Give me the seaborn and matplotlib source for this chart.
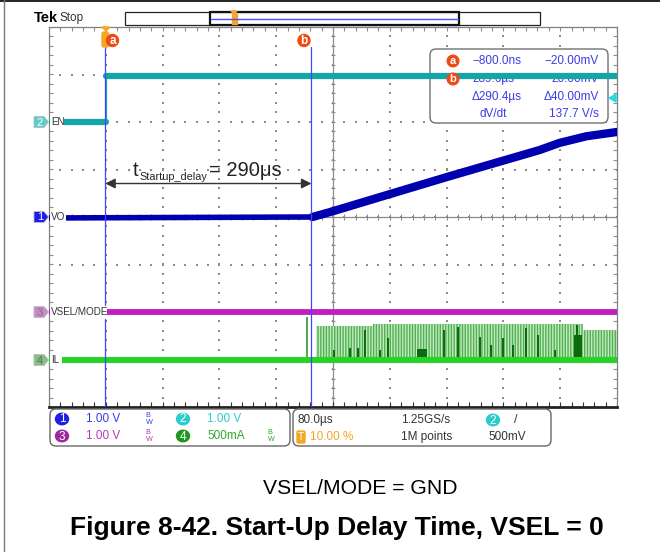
import numpy as np
import pandas as pd
import seaborn as sns
import matplotlib.pyplot as plt
from matplotlib.transforms import Affine2D
from matplotlib.patches import FancyBboxPatch, Polygon, Rectangle, Circle, Ellipse
from matplotlib.lines import Line2D

# scope screen: 80 us/div, trigger at 10 %, vertical axis in divisions (0 = centre)
en_t = [-80, 0, 0, 720]
en_v = [2.0, 2.0, 2.97, 2.97]
en_seg = [0, 0, 1, 1]

vo_t = [-80, 291, 315, 480, 611, 639, 677, 720]
vo_v = [-0.02, 0.0, 0.1, 0.84, 1.41, 1.56, 1.7, 1.79]

vsel_t = [-80, 720]
vsel_v = [-2.0, -2.0]

il_t = [-80, 720]
il_v = [-3.0, -3.0]

# IL switching after start-up: light envelope, one early pulse, darker bursts
il_env_t = [296, 376, 672, 720]
il_env_top = [-2.29, -2.25, -2.38, -2.38]
il_first_t = 283
il_first_top = -2.1
il_dark_t = [322, 344, 355, 365, 386, 398, 477, 496, 527, 543, 559, 574, 592, 609, 632, 663]
il_dark_top = [-2.8, -2.76, -2.76, -2.38, -2.8, -2.55, -2.38, -2.32, -2.53, -2.7, -2.55, -2.7,
               -2.34, -2.48, -2.8, -2.27]
il_blob_t0 = [439, 660]
il_blob_t1 = [452, 670]
il_blob_top = [-2.78, -2.48]

cursor_a = -0.8
cursor_b = 289.6

readout_left = ['\u2212800.0ns', '289.6\u00b5s', '\u0394290.4\u00b5s', 'dV/dt']
readout_right = ['\u221220.00mV', '20.00mV', '\u039440.00mV', '137.7 V/s']

sns.set_theme(style='white')
plt.rcParams['font.family'] = ['Liberation Sans', 'DejaVu Sans']
SCOPE = ['Liberation Sans', 'DejaVu Sans']

fig = plt.figure(figsize=(6.6, 5.52), dpi=100)
fig.patch.set_facecolor('white')
# reference pixel coordinates (origin top-left)
px = Affine2D().scale(1 / 660, -1 / 552).translate(0, 1) + fig.transFigure

ax = fig.add_axes([49 / 660, (552 - 407) / 552, 568 / 660, 380 / 552])
ax.set_xlim(-80, 720)
ax.set_ylim(-4, 4)
ax.set_xticks([])
ax.set_yticks([])
for s in ['left', 'right', 'top']:
    ax.spines[s].set_color('#808080')
    ax.spines[s].set_linewidth(0.9)
ax.spines['bottom'].set_color('#222222')
ax.spines['bottom'].set_linewidth(2)

# ---------------- graticule ----------------
gcol = '#8c8c8c'
gx = np.arange(-80, 721, 80)
gy = np.arange(-4, 4.01, 1)
mx = np.arange(-80, 721, 16)
my = np.arange(-4, 4.01, 0.2)
X1, Y1 = np.meshgrid(gx[1:-1], my)
X2, Y2 = np.meshgrid(mx, gy[1:-1])
ax.scatter(X1.ravel(), Y1.ravel(), s=1.3, marker='s', color=gcol, linewidths=0, zorder=1)
ax.scatter(X2.ravel(), Y2.ravel(), s=1.3, marker='s', color=gcol, linewidths=0, zorder=1)
ax.axhline(0, color=gcol, lw=0.9, zorder=1)
ax.axvline(320, color=gcol, lw=0.9, zorder=1)
ax.vlines(mx, -0.07, 0.07, color=gcol, lw=0.8, zorder=1)
ax.hlines(my, 316.5, 323.5, color=gcol, lw=0.8, zorder=1)
ax.vlines(mx, 3.92, 4, color=gcol, lw=0.8, zorder=1)
ax.vlines(mx, -4, -3.9, color='#333333', lw=0.8, zorder=1)
ax.hlines(my, -80, -75, color=gcol, lw=0.8, zorder=1)
ax.hlines(my, 715, 720, color=gcol, lw=0.8, zorder=1)

# ---------------- cursor readout box (under traces) ----------------
ax.add_patch(FancyBboxPatch((430, 49), 178, 74, boxstyle='round,pad=0,rounding_size=6',
                            transform=px, facecolor='white', edgecolor='#707070', lw=1,
                            zorder=1.5, clip_on=False))
rc = '#3b3bea'
rows_y = [61, 79, 97, 114]
for i, (l, r) in enumerate(zip(readout_left, readout_right)):
    xl = 479 if i == 3 else 472
    ax.text(xl, rows_y[i], l, transform=px, color=rc, fontsize=8.5, family=SCOPE,
            va='center', ha='left', zorder=1.6)
    ax.text(599, rows_y[i], r, transform=px, color=rc, fontsize=8.5, family=SCOPE,
            va='center', ha='right', zorder=1.6)
for lab, cy in [('a', 61), ('b', 79)]:
    ax.add_patch(Circle((453, cy), 5.8, transform=px, color='#f04a14', zorder=6, clip_on=False))
    ax.text(453, cy + 0.5, lab, transform=px, color='white', fontsize=8, weight='bold',
            ha='center', va='center', zorder=6.5)

# ---------------- traces ----------------
ax.fill_between(il_env_t, -3, il_env_top, step='post', facecolor='#c4e8c4',
                edgecolor='#4fb24f', hatch='||||||', linewidth=0, zorder=2)
ax.vlines([il_first_t], -3, [il_first_top], color='#2e9b2e', lw=1.2, zorder=2.2)
ax.vlines(il_dark_t, -3, il_dark_top, color='#0b6a0b', lw=1.4, zorder=2.4)
for t0, t1, top in zip(il_blob_t0, il_blob_t1, il_blob_top):
    ax.fill_between([t0, t1], -3, top, color='#0b6a0b', linewidth=0, zorder=2.4)

sns.lineplot(x=il_t, y=il_v, estimator=None, sort=False, color='#27d327', linewidth=4.4,
             ax=ax, zorder=3)
sns.lineplot(x=vsel_t, y=vsel_v, estimator=None, sort=False, color='#c21ec2', linewidth=4.2,
             ax=ax, zorder=3)
en_df = pd.DataFrame({'t': en_t, 'v': en_v, 'seg': en_seg})
sns.lineplot(data=en_df, x='t', y='v', units='seg', estimator=None, color='#14a6a6',
             linewidth=4.5, ax=ax, zorder=3)
sns.lineplot(x=en_t, y=en_v, estimator=None, sort=False, color='#14a6a6', linewidth=0.9,
             ax=ax, zorder=3)
sns.lineplot(x=vo_t, y=vo_v, estimator=None, sort=False, color='#0000b0', linewidth=4.0,
             ax=ax, zorder=3)
sns.lineplot(x=vo_t[1:], y=vo_v[1:], estimator=None, sort=False, color='#0000b0',
             linewidth=6.0, ax=ax, zorder=3)

# cursors
cur_top = (407 - 47) / 380
for c in (cursor_a, cursor_b):
    ax.axvline(c, ymin=0, ymax=cur_top, color='#4444ff', lw=0.9, zorder=4)

# trigger level marker on right edge
ax.add_patch(Polygon([(609, 98), (616, 94), (616, 102)], closed=True, transform=px,
                     color='#22dddd', zorder=6, clip_on=False))

# delay annotation
ax.annotate('', xy=(cursor_a, 0.705), xytext=(cursor_b, 0.705),
            arrowprops=dict(arrowstyle='<|-|>', color='#333333', lw=1, mutation_scale=15,
                            shrinkA=0, shrinkB=0), zorder=5)
ax.text(133, 176, 't', transform=px, fontsize=14.5, color='#222222', va='baseline', zorder=5)
ax.text(139.5, 180, 'Startup_delay', transform=px, fontsize=7.8, color='#222222',
        va='baseline', zorder=5)
ax.text(209, 176, '= 290\u03bcs', transform=px, fontsize=14.5, color='#222222',
        va='baseline', zorder=5)

# channel labels over the traces
for x0, x1, yc, lab in [(49.5, 64, 122, 'EN'), (49.5, 66, 217, 'VO'),
                        (49.5, 107, 312, 'VSEL/MODE'), (49.5, 62, 360, 'IL')]:
    ax.add_patch(Rectangle((x0, yc - 6.5), x1 - x0, 13, transform=px, facecolor='white',
                           edgecolor='none', zorder=5, clip_on=False))
    ax.text(51, yc, lab, transform=px, fontsize=7.1, family=SCOPE, color='#333333',
            va='center', ha='left', zorder=6)

# channel markers left of the screen
for yc, num, fc, tc in [(122, '2', '#5ccccc', 'white'), (217, '1', '#1c1cf0', 'white'),
                        (312, '3', '#cc88cc', '#777777'), (360, '4', '#80c080', '#666666')]:
    ax.add_patch(Polygon([(34, yc - 5.5), (44, yc - 5.5), (48.5, yc), (44, yc + 5.5),
                          (34, yc + 5.5)], closed=True, transform=px, facecolor=fc,
                         edgecolor='#bbbbbb', lw=0.6, zorder=6, clip_on=False))
    ax.text(40, yc + 0.5, num, transform=px, fontsize=8, family=SCOPE, color=tc,
            ha='center', va='center', zorder=7)

# cursor badges and trigger position marker at top
orange = '#f5a623'
ax.add_patch(Polygon([(102, 27), (110, 27), (106, 31)], closed=True, transform=px,
                     color=orange, zorder=6, clip_on=False))
ax.add_patch(FancyBboxPatch((102, 32), 6.5, 15, boxstyle='round,pad=0,rounding_size=2',
                            transform=px, color=orange, zorder=6, clip_on=False))
for lab, cx in [('a', 112.5), ('b', 304)]:
    ax.add_patch(Circle((cx, 40.5), 6, transform=px, color='#f04a14', zorder=7, clip_on=False))
    ax.text(cx, 41, lab, transform=px, color='white', fontsize=8.5, weight='bold',
            ha='center', va='center', zorder=8)

# ---------------- top bar ----------------
fig.text(34, 17.5, 'Tek', transform=px, fontsize=10.5, weight='bold', family=SCOPE,
         color='black', va='center')
fig.text(60, 17.5, 'Stop', transform=px, fontsize=8.5, family=SCOPE, color='#333333',
         va='center')
fig.add_artist(Rectangle((125, 12), 415, 13, transform=px, facecolor='white',
                         edgecolor='#222222', lw=0.9))
fig.add_artist(Rectangle((210, 12), 249, 13, transform=px, facecolor='none',
                         edgecolor='#111111', lw=1.6))
fig.add_artist(Line2D([211, 458], [18.5, 18.5], transform=px, color='#4a4aff', lw=1))
fig.add_artist(Polygon([(231, 11), (237, 11), (234, 14)], closed=True, transform=px,
                       color=orange))
fig.add_artist(Rectangle((231.5, 14), 5, 10, transform=px, color=orange))

# page borders
fig.add_artist(Line2D([0, 660], [0.8, 0.8], transform=px, color='#222222', lw=1.4))
fig.add_artist(Line2D([3.8, 3.8], [0, 552], transform=px, color='#777777', lw=1))

# ---------------- bottom info panels ----------------
for x0, w in [(50, 240), (293, 258)]:
    fig.add_artist(FancyBboxPatch((x0, 409), w, 37, boxstyle='round,pad=0,rounding_size=6',
                                  transform=px, facecolor='white', edgecolor='#666666', lw=1))

chan_rows = [(62, 419, '1', '#2020e0', '1.00 V', '#3a3ae8', 145),
             (183, 419, '2', '#2ccccc', '1.00 V', '#2ccccc', None),
             (62, 436, '3', '#9c2a9c', '1.00 V', '#b23ab2', 145),
             (183, 436, '4', '#1f961f', '500mA', '#2fa82f', 267)]
for cx, cy, num, cc, val, tcol, bwx in chan_rows:
    fig.add_artist(Ellipse((cx, cy), 13, 11.5, transform=px, color=cc))
    fig.text(cx, cy + 0.5, num, transform=px, fontsize=8.5, family=SCOPE, color='white',
             ha='center', va='center')
    fig.text(cx + 24, cy, val, transform=px, fontsize=8.5, family=SCOPE, color=tcol,
             ha='left', va='center')
    if bwx is not None:
        fig.text(bwx, cy, r'$\mathregular{{}^{B}_{W}}$', transform=px, fontsize=7.5,
                 color=tcol, ha='left', va='center')

fig.text(297, 420, '80.0\u00b5s', transform=px, fontsize=8.5, family=SCOPE, color='#333333',
         va='center')
fig.text(401, 420, '1.25GS/s', transform=px, fontsize=8.5, family=SCOPE, color='#333333',
         va='center')
fig.add_artist(Ellipse((493, 420), 13, 11.5, transform=px, color='#2ccccc'))
fig.text(493, 420.5, '2', transform=px, fontsize=8.5, family=SCOPE, color='white',
         ha='center', va='center')
fig.text(514, 420, '/', transform=px, fontsize=9, family=SCOPE, color='#333333',
         va='center')
fig.add_artist(FancyBboxPatch((297, 431), 8, 12, boxstyle='round,pad=0,rounding_size=1.5',
                              transform=px, color=orange))
fig.text(301, 437.5, 'T', transform=px, fontsize=7.5, family=SCOPE, color='white',
         ha='center', va='center')
fig.text(310, 437, '10.00 %', transform=px, fontsize=8.5, family=SCOPE, color=orange,
         va='center')
fig.text(401, 437, '1M points', transform=px, fontsize=8.5, family=SCOPE, color='#333333',
         va='center')
fig.text(488, 437, '500mV', transform=px, fontsize=8.5, family=SCOPE, color='#333333',
         va='center')

# ---------------- caption ----------------
fig.text(360, 489, 'VSEL/MODE = GND', transform=px, fontsize=15.2, color='black',
         ha='center', va='center')
fig.text(337, 528, 'Figure 8-42. Start-Up Delay Time, VSEL = 0', transform=px,
         fontsize=19, weight='bold', color='black', ha='center', va='center')

fig.savefig('out.png', dpi=100)
